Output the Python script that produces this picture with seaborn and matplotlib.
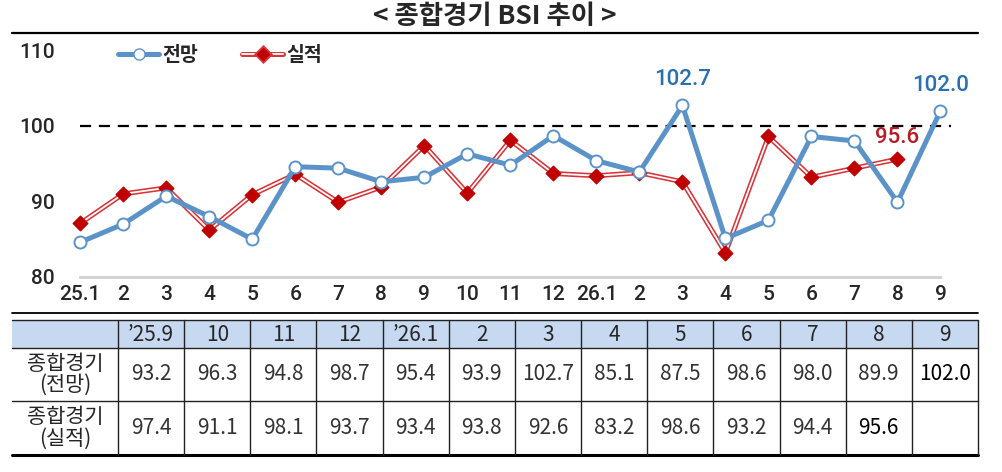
import pandas as pd
import matplotlib.pyplot as plt
import seaborn as sns
import matplotlib.patheffects as pe
from matplotlib.lines import Line2D
from matplotlib.patches import Rectangle

months = ['25.1', '2', '3', '4', '5', '6', '7', '8', '9', '10', '11', '12',
          '26.1', '2', '3', '4', '5', '6', '7', '8', '9']
outlook = [84.6, 87.0, 90.7, 88.0, 85.0, 94.6, 94.4, 92.6, 93.2, 96.3, 94.8,
           98.7, 95.4, 93.9, 102.7, 85.1, 87.5, 98.6, 98.0, 89.9, 102.0]
actual = [87.1, 91.0, 91.8, 86.2, 90.9, 93.6, 89.9, 91.9, 97.4, 91.1, 98.1,
          93.7, 93.4, 93.8, 92.6, 83.2, 98.6, 93.2, 94.4, 95.6, None]

table_cols = ['\u201925.9', '10', '11', '12', '\u201926.1', '2', '3', '4',
              '5', '6', '7', '8', '9']
table_outlook = ['93.2', '96.3', '94.8', '98.7', '95.4', '93.9', '102.7',
                 '85.1', '87.5', '98.6', '98.0', '89.9', '102.0']
table_actual = ['97.4', '91.1', '98.1', '93.7', '93.4', '93.8', '92.6',
                '83.2', '98.6', '93.2', '94.4', '95.6', '']
row_labels = ['종합경기\n(전망)', '종합경기\n(실적)']

BLUE = '#5b93c8'
RED_LINE = '#d8343a'
RED_MARK = '#c00000'
KR = ['Noto Sans CJK KR', 'DejaVu Sans']
NUM = ['Roboto', 'DejaVu Sans']

sns.set_style('white')
plt.rcParams['font.family'] = KR

df = pd.DataFrame({'idx': range(len(months)), 'outlook': outlook,
                   'actual': pd.Series(actual, dtype='float')})

W, H = 1003, 472
fig = plt.figure(figsize=(W / 100, H / 100), dpi=100)

# chart axes, in pixel positions
ax_l, ax_r, ax_t, ax_b = 60, 962, 39, 277
ax = fig.add_axes([ax_l / W, 1 - ax_b / H, (ax_r - ax_l) / W, (ax_b - ax_t) / H])
ax.set_xlim(-0.47, 20.5)
ax.set_ylim(80, 111.5)

ax.hlines(100, 0, 20.25, colors='black', linestyles=(0, (5, 3.5)), lw=1.6, zorder=1)

# 실적: double line (red with white core)
sns.lineplot(data=df, x='idx', y='actual', ax=ax, color=RED_LINE, lw=3.6, zorder=2)
sns.lineplot(data=df, x='idx', y='actual', ax=ax, color='white', lw=1.3, zorder=2.1)
ax.scatter(df['idx'], df['actual'], marker='D', s=55, color=RED_MARK, zorder=3,
           edgecolors=RED_MARK)

# 전망
sns.lineplot(data=df, x='idx', y='outlook', ax=ax, color=BLUE, lw=3.6, zorder=4)
ax.scatter(df['idx'], df['outlook'], marker='o', s=75, facecolors='white',
           edgecolors=BLUE, linewidths=1.4, zorder=5)

# labels on points
for i in [14, 20]:
    ax.annotate(f'{outlook[i]:.1f}', (i, outlook[i]), xytext=(0, 11),
                textcoords='offset points', ha='center', va='bottom',
                color='#2a6fb0', fontsize=16, family=NUM, fontweight='medium')
ax.annotate(f'{actual[19]:.1f}', (19, actual[19]), xytext=(0, 8),
            textcoords='offset points', ha='center', va='bottom',
            color='#b81c22', fontsize=16, family=NUM, fontweight='medium')

ax.set_xticks(range(len(months)))
ax.set_xticklabels(months, family=NUM, fontsize=15, fontweight='medium')
ax.set_yticks([80, 90, 100, 110])
ax.set_yticklabels(['80', '90', '100', '110'], family=NUM, fontsize=15,
                   fontweight='medium')
ax.set_xlabel('')
ax.set_ylabel('')
for s in ['top', 'right', 'left']:
    ax.spines[s].set_visible(False)
ax.spines['bottom'].set_color('#d0d0d0')
ax.spines['bottom'].set_linewidth(2)
ax.spines['bottom'].set_bounds(0, 20)
ax.tick_params(axis='x', direction='inout', length=6, width=1, color='#d0d0d0', pad=3)
ax.tick_params(axis='y', length=0, pad=4)

# legend
h_blue = Line2D([], [], color=BLUE, lw=3.6, marker='o', markersize=8,
                markerfacecolor='white', markeredgecolor=BLUE)
h_red = Line2D([], [], color='white', lw=1.3, marker='D', markersize=6,
               markerfacecolor=RED_MARK, markeredgecolor=RED_MARK,
               path_effects=[pe.Stroke(linewidth=3.6, foreground=RED_LINE),
                             pe.Normal()])
ax.legend([h_blue, h_red], ['전망', '실적'], loc='upper left',
          bbox_to_anchor=(0.045, 1.045), ncol=2, frameon=False,
          prop={'family': KR, 'size': 14, 'weight': 'bold'},
          handlelength=2.1, handletextpad=0.15, columnspacing=2.3)

# overlay in pixel coordinates for title and table
ov = fig.add_axes([0, 0, 1, 1], zorder=-1)
ov.set_xlim(0, W)
ov.set_ylim(H, 0)
ov.axis('off')

ov.text(495, 17, '< 종합경기 BSI 추이 >', ha='center', va='center',
        fontsize=19, fontweight='bold')
ov.plot([12, 978], [33, 33], color='black', lw=1.6)

# table
x0, first_w, col_w = 12, 106, (978 - 118) / len(table_cols)
y_head, y_r1, y_r2, y_end = 320, 348, 401, 455
ov.plot([x0, 978], [313, 313], color='black', lw=1.3)
ov.add_patch(Rectangle((x0, y_head), 978 - x0, y_r1 - y_head,
                       facecolor='#c6d9f0', edgecolor='none'))
for y in [y_head, y_r1, y_r2]:
    ov.plot([x0, 978], [y, y], color='#222222', lw=1.0)
ov.plot([x0, 978], [y_end, y_end], color='black', lw=2.2)
xs = [x0 + first_w + k * col_w for k in range(len(table_cols) + 1)]
for x in xs:
    ov.plot([x, x], [y_head, y_end], color='#222222', lw=1.0)

for k, c in enumerate(table_cols):
    cx = xs[k] + col_w / 2
    ov.text(cx, (y_head + y_r1) / 2 + 1, c, ha='center', va='center', fontsize=15)
    last = k == len(table_cols) - 1
    ov.text(cx, (y_r1 + y_r2) / 2, table_outlook[k], ha='center', va='center',
            fontsize=15, color='black' if last else '#333333')
    ov.text(cx, (y_r2 + y_end) / 2, table_actual[k], ha='center', va='center',
            fontsize=15, color='black' if table_actual[k] == '95.6' else '#333333')
for r, lab in enumerate(row_labels):
    yc = [(y_r1 + y_r2) / 2, (y_r2 + y_end) / 2][r]
    ov.text(x0 + first_w / 2, yc, lab, ha='center', va='center', fontsize=15,
            linespacing=0.95)

fig.savefig('out.png', dpi=100)
